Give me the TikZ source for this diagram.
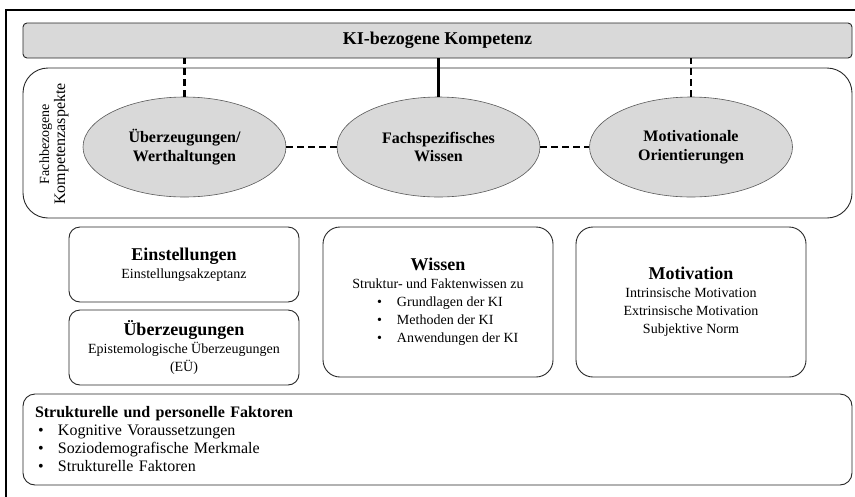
\documentclass[tikz,border=0pt]{standalone}
\usepackage{fontspec}
\setmainfont{Liberation Serif}
\usetikzlibrary{shapes.geometric}
\colorlet{kifill}{black!15}
\colorlet{kiline}{black!85}
\colorlet{ellline}{black!65}

\begin{document}
\begin{tikzpicture}[x=1pt,y=-1pt,
    kibar/.style={draw=kiline, line width=0.9pt, rounded corners=4pt, fill=kifill, minimum width=829pt, minimum height=35pt, font=\bfseries\fontsize{18}{20}\selectfont},
    aspectbox/.style={draw=kiline, line width=0.9pt, rounded corners=25pt, minimum width=829pt, minimum height=150pt},
    aspectell/.style={ellipse, draw=ellline, line width=0.6pt, fill=kifill, minimum width=203pt, minimum height=100pt, inner sep=0pt, align=center, font=\bfseries\fontsize{16}{18.5}\selectfont},
    facetbox/.style={draw=kiline, line width=0.9pt, minimum width=230pt, align=center, font=\fontsize{14}{18}\selectfont},
    link/.style={line width=2.2pt},
    dashlink/.style={link, dash pattern=on 7pt off 4pt}]
        \useasboundingbox (0,0) rectangle (855,496);
        \draw[line width=1.3pt] (6,10) rectangle (870,510);

        \node[kibar] (kibar) at (437.5,40.5) {KI-bezogene Kompetenz};
        \node[aspectbox] (aspects) at (437.5,143) {};
        \node[rotate=90, align=center, font=\fontsize{16}{16}\selectfont] (aspectlabel) at (54,144)
        {{\fontsize{14}{16}\selectfont Fachbezogene}\\Kompetenzaspekte};

        \node[aspectell] (beliefs) at (184.5,147) {Überzeugungen/\\Werthaltungen};
        \node[aspectell] (knowledge) at (438.5,147) {Fachspezifisches\\Wissen};
        \node[aspectell] (motives) at (691,147) {Motivationale\\Orientierungen};

        \draw[dashlink] (beliefs.north) -- (beliefs.north |- kibar.south);
        \draw[link] (knowledge.north) -- (knowledge.north |- kibar.south);
        \draw[dashlink] (motives.north) -- (motives.north |- kibar.south);
        \draw[dashlink] (beliefs.east) -- (knowledge.west);
        \draw[dashlink] (knowledge.east) -- (motives.west);

        \node[facetbox, rounded corners=11pt, minimum height=75pt] (attitudes) at (184,264.5)
        {{\bfseries\fontsize{18}{18}\selectfont Einstellungen}\\Einstellungsakzeptanz};
        \node[facetbox, rounded corners=11pt, minimum height=75pt] (convictions) at (184,347.5)
        {{\bfseries\fontsize{18}{18}\selectfont Überzeugungen}\\Epistemologische Überzeugungen\\(EÜ)};
        \node[facetbox, rounded corners=17pt, minimum height=150pt] (knowbox) at (438,302)
        {{\bfseries\fontsize{18}{18}\selectfont Wissen}\\Struktur- und Faktenwissen zu\\
         \makebox[122pt][l]{\makebox[20pt][l]{\textbullet}Grundlagen der KI}\\
         \makebox[122pt][l]{\makebox[20pt][l]{\textbullet}Methoden der KI}\\
         \makebox[122pt][l]{\makebox[20pt][l]{\textbullet}Anwendungen der KI}};
        \node[facetbox, rounded corners=17pt, minimum height=150pt] (motibox) at (691,302)
        {{\bfseries\fontsize{18}{18}\selectfont Motivation}\\Intrinsische Motivation\\Extrinsische Motivation\\Subjektive Norm};

        \node[draw=kiline, line width=0.9pt, rounded corners=12pt, minimum height=91pt, text width=805pt, inner xsep=12pt, align=left, font=\fontsize{16}{18}\selectfont]
        (factors) at (437.5,439.5)
        {\textbf{Strukturelle und personelle Faktoren}\\
         \hspace*{3pt}\makebox[20pt][l]{\textbullet}Kognitive Voraussetzungen\\
         \hspace*{3pt}\makebox[20pt][l]{\textbullet}Soziodemografische Merkmale\\
         \hspace*{3pt}\makebox[20pt][l]{\textbullet}Strukturelle Faktoren};

        \end{tikzpicture}
\end{document}
